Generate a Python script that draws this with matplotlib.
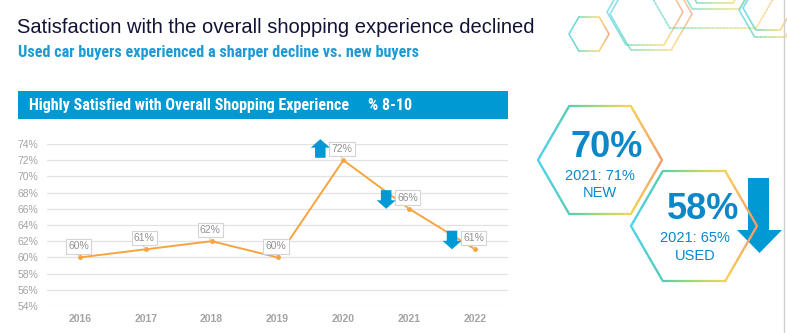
import numpy as np
import matplotlib.pyplot as plt
from matplotlib import font_manager
from matplotlib.collections import LineCollection
from matplotlib.colors import LinearSegmentedColormap
from matplotlib.patches import Rectangle, Polygon

# data
years = [2016, 2017, 2018, 2019, 2020, 2021, 2022]
overall = [60, 61, 62, 60, 72, 66, 61]
y_ticks = list(range(54, 75, 2))

new_2022, new_2021 = 70, 71
used_2022, used_2021 = 58, 65

title = 'Satisfaction with the overall shopping experience declined'
subtitle = 'Used car buyers experienced a sharper decline vs. new buyers'
banner = 'Highly Satisfied with Overall Shopping Experience'
banner_unit = '% 8-10'

# narrow bold face for subtitle / banner if one is installed
names = {f.name for f in font_manager.fontManager.ttflist}
narrow = None
for cand in ['Liberation Sans Narrow', 'Roboto Condensed', 'Open Sans Condensed']:
    if cand in names:
        narrow = cand
        break
if narrow:
    sub_size, ban_size = 11.6, 11.5
else:
    narrow = 'Liberation Sans'
    sub_size, ban_size = 9.6, 9

plt.rcParams['font.family'] = ['Liberation Sans', 'DejaVu Sans']

BLUE = '#0099d4'
TXT_BLUE = '#0a88c8'
ORANGE = '#f7a440'
GRAY = '#a3a3a3'
hex_cmap = LinearSegmentedColormap.from_list(
    'hex', ['#4fd3ec', '#55cfb3', '#a9d874', '#f8d257', '#f79a6c'])

fig = plt.figure(figsize=(7.87, 3.33), dpi=100)

# background layer in pixel coordinates
bg = fig.add_axes([0, 0, 1, 1])
bg.set_xlim(0, 787)
bg.set_ylim(333, 0)
bg.axis('off')


def hexagon(cx, cy, r, lw=1.6, alpha=1.0):
    ang = np.radians(np.arange(0, 361, 60))
    vx = cx + r * np.cos(ang)
    vy = cy + r * np.sin(ang)
    t = np.linspace(0, 1, 25)
    pts = np.vstack([np.column_stack([vx[i] + (vx[i + 1] - vx[i]) * t,
                                      vy[i] + (vy[i + 1] - vy[i]) * t]) for i in range(6)])
    segs = np.stack([pts[:-1], pts[1:]], axis=1)
    c = (segs[:, :, 0].mean(axis=1) - (cx - r)) / (2 * r)
    bg.add_collection(LineCollection(segs, colors=hex_cmap(c), linewidths=lw,
                                     alpha=alpha, capstyle='round'))


# decorative hexagons top right
for cx, cy, r in [(589, 34, 20), (645, 12, 38), (651, 14, 41), (713, -46, 86),
                  (716, -33, 48), (715, -28, 36), (768, 8, 25), (770, 10, 31)]:
    hexagon(cx, cy, r, lw=1.2, alpha=0.45)

bg.plot([784, 784], [0, 333], color='#cfcfcf', lw=1)

# titles
bg.text(17, 33, title, fontsize=14.5, color='#121236', va='baseline')
bg.text(18, 57, subtitle, fontsize=sub_size, fontweight='bold', color='#1b9ad6',
        va='baseline', family=narrow)
bg.add_patch(Rectangle((18, 91), 490, 28, color=BLUE, lw=0))
bg.text(29, 110, banner, fontsize=ban_size, fontweight='bold', color='white',
        va='baseline', family=narrow)
bg.text(368, 110, banner_unit, fontsize=ban_size, fontweight='bold', color='white',
        va='baseline', family=narrow)

# KPI hexagons
hexagon(600, 160, 62, lw=1.6)
hexagon(694, 226, 63, lw=1.6)
bg.text(607, 157, f'{new_2022}%', fontsize=26, fontweight='bold', color=TXT_BLUE,
        ha='center', va='baseline')
bg.text(600, 180, f'2021: {new_2021}%', fontsize=10.5, color=TXT_BLUE,
        ha='center', va='baseline')
bg.text(600, 197, 'NEW', fontsize=10.5, color=TXT_BLUE, ha='center', va='baseline')
bg.text(703, 219, f'{used_2022}%', fontsize=26, fontweight='bold', color=TXT_BLUE,
        ha='center', va='baseline')
bg.text(695, 242, f'2021: {used_2021}%', fontsize=10.5, color=TXT_BLUE,
        ha='center', va='baseline')
bg.text(695, 260, 'USED', fontsize=10.5, color=TXT_BLUE, ha='center', va='baseline')
bg.add_patch(Polygon([(748, 178), (769, 178), (769, 230), (782, 230), (759.5, 253),
                      (737, 230), (748, 230)], closed=True, color=BLUE, lw=0))

# line chart
ax = fig.add_axes([47 / 787, (333 - 306) / 333, (508 - 47) / 787, 162 / 333])
ax.set_facecolor('none')
ax.set_xlim(2015.5, 2022.5)
ax.set_ylim(54, 74)
ax.plot(years, overall, color=ORANGE, lw=1.4, marker='o', ms=2.5, zorder=3)
ax.set_yticks(y_ticks)
ax.set_yticklabels([f'{v}%' for v in y_ticks])
ax.set_xticks(years)
ax.set_xticklabels([str(y) for y in years], fontweight='bold')
ax.grid(axis='y', color='#e2e2e2', lw=0.9)
ax.set_axisbelow(True)
for s in ax.spines.values():
    s.set_visible(False)
ax.tick_params(axis='y', length=0, pad=6, labelsize=7.5, labelcolor=GRAY)
ax.tick_params(axis='x', length=0, pad=6, labelsize=7.5, labelcolor=GRAY)

for x, v in zip(years, overall):
    ax.annotate(f'{v}%', xy=(x, v), xytext=(-1, 8), textcoords='offset points',
                ha='center', va='center', fontsize=7.5, color='#909090', zorder=4,
                bbox=dict(boxstyle='square,pad=0.22', fc='white', ec='#d4d4d4', lw=0.8),
                arrowprops=dict(arrowstyle='-', color='#d4d4d4', lw=0.8,
                                shrinkA=0, shrinkB=1, relpos=(0.35, 0)))

# change arrows for the last three years
for i in range(4, 7):
    x = years[i] - 0.35
    v = overall[i]
    if overall[i] > overall[i - 1]:
        y0, dy = v + 0.3, 2.3
    else:
        y0, dy = v + 2.3, -2.3
    ax.arrow(x, y0, 0, dy, width=0.16, head_width=0.29, head_length=1.05,
             length_includes_head=True, fc=BLUE, ec='none', clip_on=False, zorder=5)

fig.savefig('out.png', dpi=100)
